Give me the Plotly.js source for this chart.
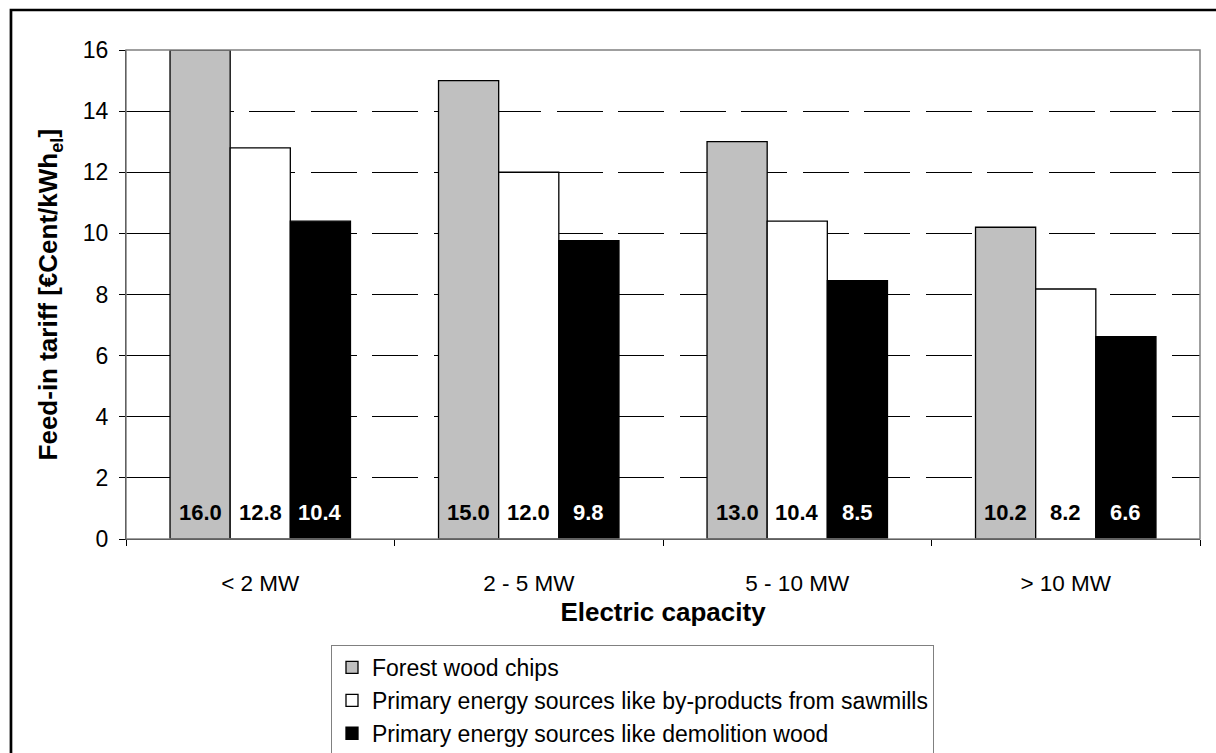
<!DOCTYPE html>
<html>
<head>
<meta charset="utf-8">
<script src="https://cdn.plot.ly/plotly-3.0.1.min.js"></script>
<style>html,body{margin:0;padding:0;background:#fff;overflow:hidden;}#chart{width:1216px;height:753px;}</style>
</head>
<body>
<div id="chart"></div>
<script>
const categories = ['< 2 MW', '2 - 5 MW', '5 - 10 MW', '> 10 MW'];
const seriesNames = [
  'Forest wood chips',
  'Primary energy sources like by-products from sawmills',
  'Primary energy sources like demolition wood'
];
const forestChips = [16.0, 15.0, 13.0, 10.2];
const sawmillByproducts = [12.8, 12.0, 10.4, 8.18];
const demolitionWood = [10.4, 9.76, 8.45, 6.62];
const forestLabels = ['16.0', '15.0', '13.0', '10.2'];
const sawmillLabels = ['12.8', '12.0', '10.4', '8.2'];
const demolitionLabels = ['10.4', '9.8', '8.5', '6.6'];
const yTicks = [0, 2, 4, 6, 8, 10, 12, 14, 16];
const xTitle = 'Electric capacity';
const yTitle = 'Feed-in tariff [€Cent/kWh<sub>el</sub>]';

const FONT = 'Liberation Sans, Arial, Helvetica, sans-serif';
const fills = ['#C0C0C0', '#FFFFFF', '#000000'];
const textColors = ['#000000', '#000000', '#FFFFFF'];
const values = [forestChips, sawmillByproducts, demolitionWood];
const labels = [forestLabels, sawmillLabels, demolitionLabels];

const traces = values.map((v, i) => ({
  type: 'bar',
  name: seriesNames[i],
  x: categories,
  y: v,
  marker: {color: fills[i], line: {color: '#000', width: 1.3}},
  hoverinfo: 'skip'
}));

const annotations = [];
labels.forEach((arr, i) => {
  arr.forEach((t, j) => {
    annotations.push({
      x: categories[j], y: 0, xref: 'x', yref: 'y',
      text: '<b>' + t + '</b>', showarrow: false,
      yanchor: 'bottom', yshift: 12, xshift: (i - 1) * 60,
      font: {family: FONT, size: 22, color: textColors[i]}
    });
  });
});
// y-axis title (drawn as rotated annotation so it stays fixed with fixed margins)
annotations.push({
  xref: 'paper', yref: 'paper', x: -0.0708, y: 0.5,
  xanchor: 'center', yanchor: 'middle', textangle: -90,
  text: '<b>' + yTitle + '</b>', showarrow: false,
  font: {family: FONT, size: 26, color: '#000'}
});

const layout = {
  width: 1216, height: 753,
  margin: {l: 126, r: 16, t: 50, b: 214, autoexpand: false},
  paper_bgcolor: '#fff', plot_bgcolor: '#fff',
  font: {family: FONT, size: 22, color: '#000'},
  barmode: 'group', bargap: 0.328, bargroupgap: 0,
  showlegend: true,
  legend: {
    xref: 'container', yref: 'container',
    x: 0.2722, y: 0.1434, xanchor: 'left', yanchor: 'top',
    orientation: 'v', bgcolor: '#fff', bordercolor: '#808080', borderwidth: 1,
    font: {family: FONT, size: 23, color: '#000'},
    itemwidth: 30, tracegroupgap: 0, traceorder: 'normal'
  },
  xaxis: {
    type: 'category',
    showgrid: false, zeroline: false,
    showline: true, linecolor: '#000', linewidth: 1,
    ticks: 'outside', ticklen: 6, tickcolor: '#000', tickwidth: 1,
    tickson: 'boundaries',
    ticklabelstandoff: 24,
    tickfont: {family: FONT, size: 22.5, color: '#000'},
    title: {text: '<b>' + xTitle + '</b>', font: {family: FONT, size: 26, color: '#000'}, standoff: 7}
  },
  yaxis: {
    range: [0, 16], tickvals: yTicks, ticktext: yTicks.map(String),
    showgrid: true, gridcolor: '#000', gridwidth: 1, griddash: '46px,15.5px',
    zeroline: false,
    showline: true, linecolor: '#000', linewidth: 1,
    ticks: 'outside', ticklen: 6, tickcolor: '#000', tickwidth: 1,
    ticklabelstandoff: 6,
    tickfont: {family: FONT, size: 23, color: '#000'}
  },
  shapes: [
    {type: 'rect', xref: 'paper', yref: 'paper', x0: 0, x1: 1, y0: 0, y1: 1,
     line: {color: '#808080', width: 1.5}, fillcolor: 'rgba(0,0,0,0)', layer: 'above'},
    {type: 'rect', xref: 'paper', yref: 'paper', x0: -0.1071, x1: 1.03, y0: -0.46, y1: 1.0818,
     line: {color: '#000', width: 2.7}, fillcolor: 'rgba(0,0,0,0)', layer: 'above'}
  ],
  annotations: annotations
};

Plotly.newPlot('chart', traces, layout, {staticPlot: true, displayModeBar: false});
</script>
</body>
</html>
